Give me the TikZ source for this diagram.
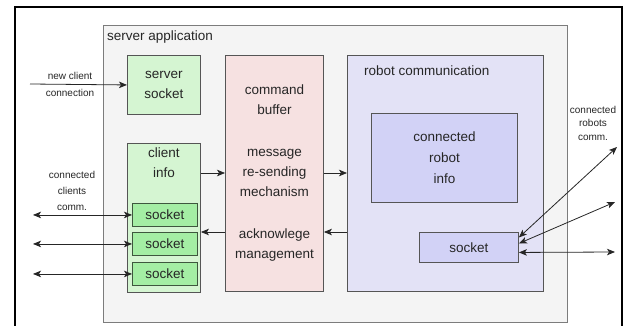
\documentclass[tikz,border=0pt]{standalone}
\usepackage{fontspec}
\setmainfont{Liberation Sans}
\usepackage{tikz}
\usetikzlibrary{arrows.meta,positioning,calc}
\usepackage{xcolor}
\definecolor{Shell}{HTML}{F4F4F4}
\definecolor{ShellEdge}{HTML}{7C7C7C}
\definecolor{Edge}{HTML}{555555}
\definecolor{Leaf}{HTML}{D5F5D2}
\definecolor{LeafDark}{HTML}{A4EEA4}
\definecolor{LeafEdge}{HTML}{3E573E}
\definecolor{Blush}{HTML}{F6E1E1}
\definecolor{Lilac}{HTML}{E3E2F6}
\definecolor{Violet}{HTML}{D2D2F6}
\definecolor{Ink}{HTML}{262626}
\tikzset{
  blk/.style={draw=Edge, line width=0.9pt, inner sep=0pt, anchor=north west, align=center, text=Ink, font=\fontsize{13.5}{20}\selectfont},
  blkshell/.style={blk, draw=ShellEdge, fill=Shell},
  blkgreen/.style={blk, fill=Leaf},
  blksock/.style={blk, draw=LeafEdge, fill=LeafDark},
  blkrose/.style={blk, fill=Blush},
  blklilac/.style={blk, fill=Lilac},
  blkviolet/.style={blk, fill=Violet},
  title/.style={inner sep=0pt, align=center, text=Ink, font=\fontsize{13.5}{20}\selectfont},
  caption/.style={inner sep=0pt, align=center, text=Ink, font=\fontsize{10}{16}\selectfont},
  arrow/.style={-{Stealth[length=8pt,width=6.5pt,inset=2pt]}, line width=0.8pt, draw=Ink},
  biarrow/.style={{Stealth[length=8pt,width=6.5pt,inset=2pt]}-{Stealth[length=8pt,width=6.5pt,inset=2pt]}, line width=0.8pt, draw=Ink}
}
\begin{document}
\begin{tikzpicture}[x=1pt, y=-1pt]
\useasboundingbox (0,0) rectangle (624,326);
% open frame round the whole figure
\draw[line width=2pt] (15,326) |- (622,7) -- (622,326);
% server application
\node[blkshell, minimum width=464pt, minimum height=297pt] (app) at (103,25) {};
\node[title, anchor=north west] (apptitle) at (107,31) {server application};
\node[blkgreen, minimum width=73pt, minimum height=59pt] (ssock) at (127,55) {server\\socket};
\node[blkgreen, minimum width=73pt, minimum height=149pt] (info) at (127,143) {};
\node[title, below=5pt of info.north] (infotitle) {client\\info};
\foreach \i/\y in {1/203,2/232,3/262}
  \node[blksock, minimum width=65pt, minimum height=23pt] (csock\i) at (132,\y) {socket};
\node[blkrose, minimum width=98pt, minimum height=236pt] (cmd) at (225,55) {command\\buffer\\[22pt]message\\re-sending\\mechanism\\[22pt]acknowlege\\management};
% robot side
\node[blklilac, minimum width=196pt, minimum height=236pt] (robot) at (347,55) {};
\node[title, anchor=north west] (robottitle) at (364,66) {robot communication};
\node[blkviolet, minimum width=146pt, minimum height=89pt, font=\fontsize{13.5}{21}\selectfont] (rinfo) at (371,113) {connected\\robot\\info};
\node[blkviolet, minimum width=99pt, minimum height=30pt] (rsock) at (419,232) {socket};
% outside labels
\node[caption, font=\fontsize{10}{17}\selectfont] (newlbl) at (70,84) {new client\\connection};
\node[caption] (clientlbl) at (72,191) {connected\\clients\\comm.};
\node[caption, font=\fontsize{10}{13.5}\selectfont] (robotlbl) at (593,123) {connected\\robots\\comm.};
% connectors
\coordinate (newc) at (30,84);
\draw[arrow] (newc) -- (ssock.west);
\foreach \i in {1,2,3} {
  \coordinate (cl\i) at ($(csock\i.west)+(-99,0)$);
  \draw[biarrow] (cl\i) -- (csock\i.west);
}
\coordinate (fwd) at (0,173);
\coordinate (bwd) at (0,232);
\foreach \a/\b/\r in {info.east/cmd.west/fwd,cmd.east/robot.west/fwd,robot.west/cmd.east/bwd,cmd.west/info.east/bwd}
  \draw[arrow] (\a |- \r) -- (\b |- \r);
\coordinate (rc1) at (617,147);
\coordinate (rc2) at (615,202);
\coordinate (rc3) at (615,252);
\draw[biarrow] ([yshift=10pt]rsock.east) -- (rc1);
\draw[biarrow] ([yshift=4pt]rsock.east) -- (rc2);
\draw[biarrow] ([yshift=-5pt]rsock.east) -- (rc3);
\end{tikzpicture}
\end{document}
